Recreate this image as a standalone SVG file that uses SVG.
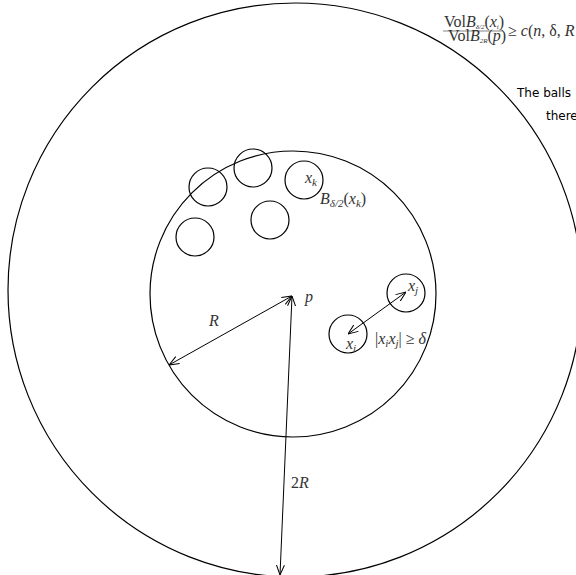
<svg xmlns="http://www.w3.org/2000/svg" width="576" height="575" viewBox="0 0 576 575">
<style>
.c{fill:none;stroke:#000;stroke-width:1.2}
.l{fill:none;stroke:#000;stroke-width:1}
.m{font-family:"Liberation Serif",serif;font-style:italic;font-size:16px;fill:#333}
.r{font-family:"Liberation Serif",serif;font-size:16px;fill:#333}
.s{font-family:"DejaVu Sans","Liberation Sans",sans-serif;font-size:12px;fill:#000}
</style>
<defs>
<marker id="ah" viewBox="0 0 10 10" refX="10" refY="5" markerWidth="10" markerHeight="10" markerUnits="userSpaceOnUse" orient="auto-start-reverse">
<path d="M0,1 L10,5 L0,9" fill="none" stroke="#000" stroke-width="1"/>
</marker>
</defs>
<rect width="576" height="575" fill="#fff"/>
<g id="outer"><circle class="c" cx="295" cy="290" r="287"/></g>
<g id="inner"><circle class="c" cx="293" cy="294" r="143"/></g>
<g id="balls">
<circle class="c" cx="208" cy="187" r="19"/>
<circle class="c" cx="253" cy="168" r="19"/>
<circle class="c" cx="304" cy="180" r="19"/>
<circle class="c" cx="270" cy="220" r="19"/>
<circle class="c" cx="195" cy="237" r="19"/>
<circle class="c" cx="406" cy="293" r="19"/>
<circle class="c" cx="348" cy="334" r="19"/>
</g>
<g id="connectors">
<line class="l" x1="292" y1="296" x2="169" y2="365" marker-start="url(#ah)" marker-end="url(#ah)"/>
<line class="l" x1="292" y1="296" x2="280" y2="575" marker-start="url(#ah)" marker-end="url(#ah)"/>
<line class="l" x1="348" y1="334" x2="406" y2="292" marker-start="url(#ah)" marker-end="url(#ah)"/>
</g>
<g id="labels">
<text class="m" x="305" y="302">p</text>
<text class="m" x="209" y="326">R</text>
<text class="m" x="291" y="488"><tspan font-style="normal">2</tspan>R</text>
<text class="m" x="305" y="183">x<tspan font-size="11" dy="3">k</tspan></text>
<text class="m" x="320" y="204">B<tspan font-size="11" dy="3">δ/2</tspan><tspan dy="-3" font-style="normal">(</tspan>x<tspan font-size="11" dy="3">k</tspan><tspan dy="-3" font-style="normal">)</tspan></text>
<text class="m" x="408" y="291">x<tspan font-size="11" dy="3">j</tspan></text>
<text class="m" x="346" y="349">x<tspan font-size="11" dy="3">i</tspan></text>
<text class="m" x="375" y="344"><tspan font-style="normal">|</tspan>x<tspan font-size="11" dy="3">i</tspan><tspan dy="-3">x</tspan><tspan font-size="11" dy="3">j</tspan><tspan dy="-3" font-style="normal">| ≥ </tspan>δ</text>
<text class="r" x="444" y="27" font-size="9.5">Vol<tspan font-style="italic">B</tspan><tspan font-size="7" dy="2" font-style="italic">δ/2</tspan><tspan dy="-2">(</tspan><tspan font-style="italic">x</tspan><tspan font-size="7" dy="2" font-style="italic">i</tspan><tspan dy="-2">)</tspan></text>
<line x1="443" y1="31" x2="503" y2="31" stroke="#333" stroke-width="0.6"/>
<text class="r" x="448" y="41" font-size="9.5">Vol<tspan font-style="italic">B</tspan><tspan font-size="7" dy="2" font-style="italic">2R</tspan><tspan dy="-2">(</tspan><tspan font-style="italic">p</tspan><tspan>)</tspan></text>
<text class="r" x="508" y="36">≥ <tspan font-style="italic">c</tspan>(<tspan font-style="italic">n</tspan>, δ, <tspan font-style="italic">R</tspan></text>
<text class="s" x="517" y="97">The balls</text>
<text class="s" x="546" y="120">there</text>
</g>
</svg>
